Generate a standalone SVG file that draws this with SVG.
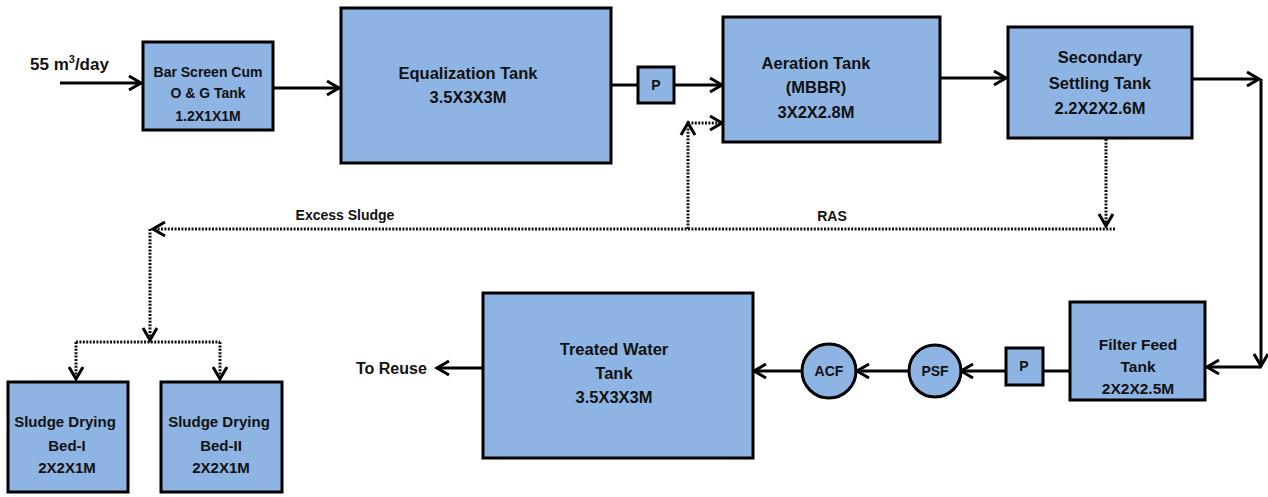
<svg xmlns="http://www.w3.org/2000/svg" width="1268" height="497" viewBox="0 0 1268 497">
<style>
.box{fill:#8EB4E3;stroke:#000;stroke-width:3}
.t{font-family:"Liberation Sans",Arial,sans-serif;font-weight:bold;font-size:15px;fill:#111;text-anchor:middle}
.s{font-size:14px}
.b{font-size:16.5px}
.ln{fill:none;stroke:#000;stroke-width:3}
.dt{fill:none;stroke:#111;stroke-width:3;stroke-dasharray:2 1.4}
</style>
<defs>
<marker id="ah" markerUnits="userSpaceOnUse" viewBox="-15 -10 18 20" refX="0" refY="0" markerWidth="18" markerHeight="20" orient="auto">
<path d="M-12,-7 L0,0 L-12,7" fill="none" stroke="#000" stroke-width="3"/>
</marker>
</defs>
<g id="connectors">
<path class="ln" d="M60,83 H141" marker-end="url(#ah)"/>
<path class="ln" d="M273,88 H339" marker-end="url(#ah)"/>
<path class="ln" d="M611,85 H638"/>
<path class="ln" d="M674,85 H722" marker-end="url(#ah)"/>
<path class="ln" d="M940,78 H1006" marker-end="url(#ah)"/>
<path class="ln" d="M1192,79 H1259" marker-end="url(#ah)"/>
<path class="ln" d="M1261,79 V366" marker-end="url(#ah)"/>
<path class="ln" d="M1261,367 H1207" marker-end="url(#ah)"/>
<path class="ln" d="M1070,371 H1043"/>
<path class="ln" d="M1006,371 H961" marker-end="url(#ah)"/>
<path class="ln" d="M909,371 H857" marker-end="url(#ah)"/>
<path class="ln" d="M802,371 H754" marker-end="url(#ah)"/>
<path class="ln" d="M483,368 H437" marker-end="url(#ah)"/>
<path class="dt" d="M1106,139 V226" marker-end="url(#ah)"/>
<path class="dt" d="M1115,229 H153" marker-end="url(#ah)"/>
<path class="dt" d="M688,229 V123" marker-end="url(#ah)"/>
<path class="dt" d="M688,123 H722" marker-end="url(#ah)"/>
<path class="dt" d="M150,229 V340" marker-end="url(#ah)"/>
<path class="dt" d="M76,342 H220"/>
<path class="dt" d="M76,342 V379" marker-end="url(#ah)"/>
<path class="dt" d="M220,342 V379" marker-end="url(#ah)"/>
<text class="t s" x="345" y="220">Excess Sludge</text>
<text class="t s" x="832" y="221">RAS</text>
</g>
<g id="inflow">
<text class="t" x="30" y="70" style="text-anchor:start;font-size:17px">55 m<tspan font-size="11" dy="-7">3</tspan><tspan dy="7">/day</tspan></text>
</g>
<g id="bar-screen">
<rect class="box" x="143" y="42" width="130" height="88"/>
<text class="t s" x="208" y="77">Bar Screen Cum</text>
<text class="t s" x="208" y="98">O &amp; G Tank</text>
<text class="t s" x="208" y="121">1.2X1X1M</text>
</g>
<g id="equalization">
<rect class="box" x="341" y="8" width="270" height="155"/>
<text class="t b" x="468" y="79">Equalization Tank</text>
<text class="t b" x="468" y="103">3.5X3X3M</text>
</g>
<g id="pump1">
<rect class="box" x="638" y="67" width="36" height="36"/>
<text class="t s" x="656" y="90">P</text>
</g>
<g id="aeration">
<rect class="box" x="723" y="17" width="217" height="125"/>
<text class="t b" x="816" y="69">Aeration Tank</text>
<text class="t b" x="816" y="93">(MBBR)</text>
<text class="t b" x="816" y="118">3X2X2.8M</text>
</g>
<g id="settling">
<rect class="box" x="1008" y="27" width="184" height="111"/>
<text class="t b" x="1100" y="63">Secondary</text>
<text class="t b" x="1100" y="89">Settling Tank</text>
<text class="t b" x="1100" y="114">2.2X2X2.6M</text>
</g>
<g id="filter-feed">
<rect class="box" x="1070" y="302" width="135" height="98"/>
<text class="t" x="1138" y="350" style="font-size:15.5px">Filter Feed</text>
<text class="t" x="1138" y="372" style="font-size:15.5px">Tank</text>
<text class="t" x="1138" y="394" style="font-size:15.5px">2X2X2.5M</text>
</g>
<g id="pump2">
<rect class="box" x="1006" y="348" width="37" height="37"/>
<text class="t s" x="1024" y="371">P</text>
</g>
<g id="psf">
<circle class="box" cx="935" cy="371" r="26"/>
<text class="t s" x="935" y="376">PSF</text>
</g>
<g id="acf">
<circle class="box" cx="829" cy="371" r="27"/>
<text class="t s" x="829" y="376">ACF</text>
</g>
<g id="treated-water">
<rect class="box" x="483" y="293" width="270" height="165"/>
<text class="t b" x="614" y="355">Treated Water</text>
<text class="t b" x="614" y="379">Tank</text>
<text class="t b" x="614" y="403">3.5X3X3M</text>
</g>
<g id="reuse">
<text class="t" x="356" y="374" style="text-anchor:start;font-size:16px">To Reuse</text>
</g>
<g id="sdb1">
<rect class="box" x="8" y="382" width="120" height="110"/>
<text class="t" x="65" y="427">Sludge Drying</text>
<text class="t" x="67" y="451">Bed-I</text>
<text class="t" x="67" y="473">2X2X1M</text>
</g>
<g id="sdb2">
<rect class="box" x="161" y="382" width="121" height="110"/>
<text class="t" x="219" y="427">Sludge Drying</text>
<text class="t" x="221" y="451">Bed-II</text>
<text class="t" x="221" y="473">2X2X1M</text>
</g>
</svg>
